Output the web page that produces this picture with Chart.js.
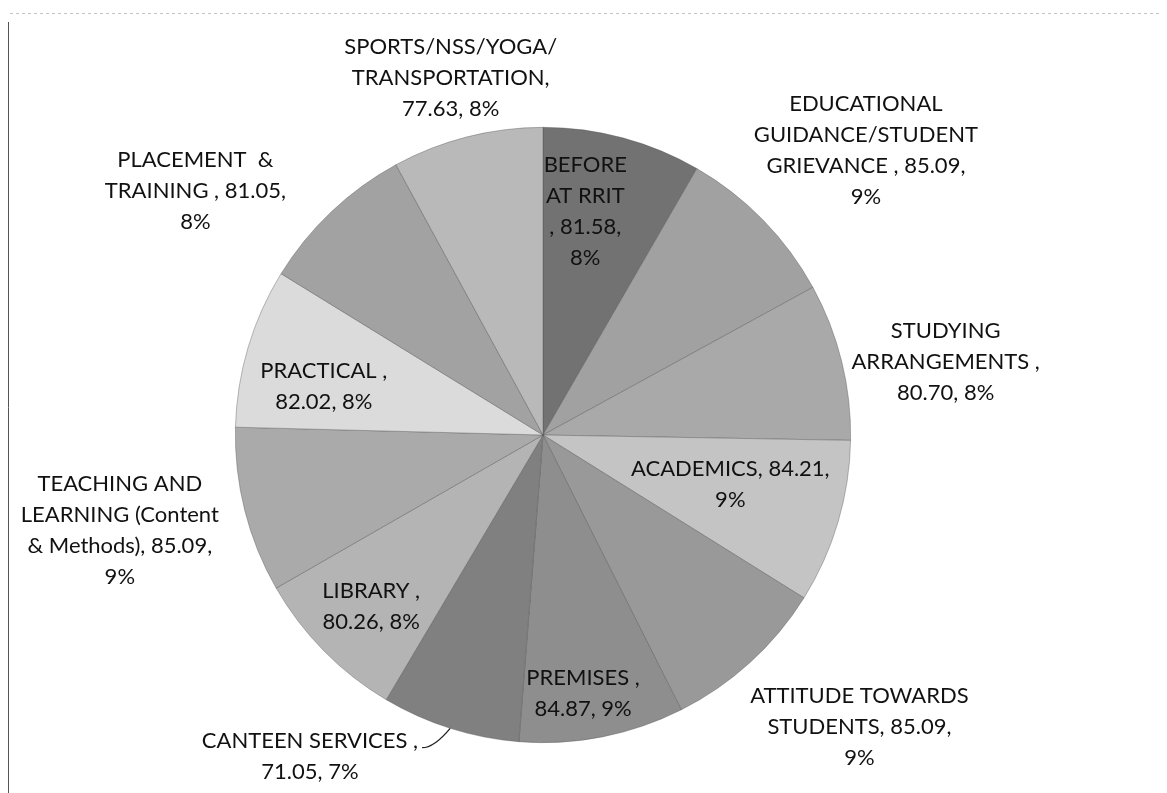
<!DOCTYPE html>
<html>
<head>
<meta charset="utf-8">
<script src="https://cdn.jsdelivr.net/npm/chart.js@4.4.1/dist/chart.umd.min.js"></script>
<style>
  html, body { margin: 0; padding: 0; background: #fff; }
  #wrap { width: 1167px; height: 793px; position: relative; }
</style>
</head>
<body>
<div id="wrap"><canvas id="pie"></canvas></div>
<script>
// slices, clockwise from 12 o'clock
const categories = [
  'BEFORE AT RRIT',
  'EDUCATIONAL GUIDANCE/STUDENT GRIEVANCE',
  'STUDYING ARRANGEMENTS',
  'ACADEMICS',
  'ATTITUDE TOWARDS STUDENTS',
  'PREMISES',
  'CANTEEN SERVICES',
  'LIBRARY',
  'TEACHING AND LEARNING (Content & Methods)',
  'PRACTICAL',
  'PLACEMENT & TRAINING',
  'SPORTS/NSS/YOGA/TRANSPORTATION'
];
const values = [81.58, 85.09, 80.70, 84.21, 85.09, 84.87, 71.05, 80.26, 85.09, 82.02, 81.05, 77.63];

// label text as wrapped in the original ({v} = value, {p} = percent)
const labelTemplates = [
  'BEFORE\nAT RRIT\n, {v},\n{p}',
  'EDUCATIONAL\nGUIDANCE/STUDENT\nGRIEVANCE , {v},\n{p}',
  'STUDYING\nARRANGEMENTS ,\n{v}, {p}',
  'ACADEMICS, {v},\n{p}',
  'ATTITUDE TOWARDS\nSTUDENTS, {v},\n{p}',
  'PREMISES ,\n{v}, {p}',
  'CANTEEN SERVICES ,\n{v}, {p}',
  'LIBRARY ,\n{v}, {p}',
  'TEACHING AND\nLEARNING (Content\n& Methods), {v},\n{p}',
  'PRACTICAL ,\n{v}, {p}',
  'PLACEMENT  &\nTRAINING , {v},\n{p}',
  'SPORTS/NSS/YOGA/\nTRANSPORTATION,\n{v}, {p}'
];

const sliceColors = ['#727272', '#a1a1a1', '#a9a9a9', '#c4c4c4', '#999999', '#8e8e8e',
                     '#808080', '#b4b4b4', '#aaaaaa', '#dbdbdb', '#a2a2a2', '#b9b9b9'];

const total = values.reduce((a, b) => a + b, 0);

// draws the frame lines of the scanned page
const pageFrame = {
  id: 'pageFrame',
  beforeDraw(chart) {
    const ctx = chart.ctx;
    ctx.save();
    ctx.strokeStyle = '#555';
    ctx.lineWidth = 1;
    ctx.beginPath();
    ctx.moveTo(8.5, 22);
    ctx.lineTo(8.5, chart.height);
    ctx.stroke();
    ctx.strokeStyle = '#c4c4c4';
    ctx.setLineDash([3, 3]);
    ctx.beginPath();
    ctx.moveTo(10, 13.5);
    ctx.lineTo(chart.width - 8, 13.5);
    ctx.stroke();
    ctx.restore();
  }
};

const sliceLabels = {
  id: 'sliceLabels',
  afterDatasetsDraw(chart, args, opts) {
    const ctx = chart.ctx;
    const meta = chart.getDatasetMeta(0);
    ctx.save();
    ctx.font = opts.font;
    ctx.fillStyle = opts.color;
    ctx.textAlign = 'center';
    ctx.textBaseline = 'middle';
    meta.data.forEach((arc, i) => {
      const f = opts.place[i][0], off = opts.place[i][1];
      const mid = (arc.startAngle + arc.endAngle) / 2;
      const a = mid + off * Math.PI / 180;
      const r = arc.outerRadius * f;
      const x = arc.x + Math.cos(a) * r;
      const y = arc.y + Math.sin(a) * r;
      const pct = Math.round(values[i] / total * 100) + '%';
      const lines = labelTemplates[i].replace('{v}', values[i].toFixed(2)).replace('{p}', pct).split('\n');
      const lh = opts.lineHeight;
      const y0 = y - (lines.length - 1) / 2 * lh;
      lines.forEach((ln, k) => ctx.fillText(ln, x, y0 + k * lh));

      if (i === opts.leaderIndex) {
        const w = ctx.measureText(lines[0]).width;
        const sx = x + w / 2 + 4, sy = y0 + 7;
        const ex = arc.x + Math.cos(mid) * arc.outerRadius;
        const ey = arc.y + Math.sin(mid) * arc.outerRadius;
        ctx.strokeStyle = '#222';
        ctx.lineWidth = 1.3;
        ctx.beginPath();
        ctx.moveTo(sx, sy);
        ctx.quadraticCurveTo(sx + 12, sy, ex, ey);
        ctx.stroke();
      }
    });
    ctx.restore();
  }
};

new Chart(document.getElementById('pie'), {
  type: 'pie',
  data: {
    labels: categories,
    datasets: [{
      data: values,
      backgroundColor: sliceColors,
      borderColor: 'rgba(80,80,80,0.55)',
      borderWidth: 0.7
    }]
  },
  options: {
    responsive: true,
    maintainAspectRatio: false,
    animation: false,
    layout: { padding: { top: 127, bottom: 50, left: 200, right: 281 } },
    plugins: {
      legend: { display: false },
      tooltip: { enabled: false },
      sliceLabels: {
        font: '22px Lato',
        color: '#111',
        lineHeight: 31,
        leaderIndex: 6,
        // [radius factor, angle shift in degrees]
        place: [[0.74, -4.3], [1.40, 2.9], [1.33, 3.6], [0.63, -1.6], [1.40, -4.9], [0.85, 2.3],
                [1.29, 18.4], [0.79, -0.4], [1.41, 1.5], [0.73, -4.0], [1.38, -11.5], [1.20, -0.2]]
      }
    }
  },
  plugins: [pageFrame, sliceLabels]
});
</script>
</body>
</html>
